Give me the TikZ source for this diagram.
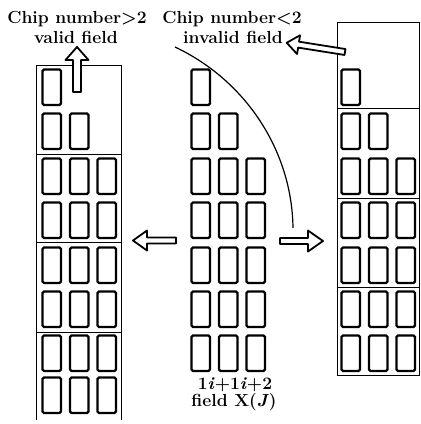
\documentclass[tikz,border=0pt]{standalone}
\usepackage{fontspec}
\newcommand\hollowarrow[7]{%
  \begin{scope}[shift={(#1,#2)}, rotate=#3]
    \draw[harrow] (0,-#5/2) -- (#4-#7,-#5/2) -- (#4-#7,-#6/2) -- (#4,0) -- (#4-#7,#6/2) -- (#4-#7,#5/2) -- (0,#5/2) -- cycle;
  \end{scope}}
\begin{document}
\begin{tikzpicture}[x=1pt,y=-1pt,
  chip/.style={draw, line width=2.2pt, rounded corners=1.5pt, minimum width=18.5pt, minimum height=35.5pt, inner sep=0pt, outer sep=0pt, anchor=north west},
  frame/.style={line width=0.9pt},
  lbl/.style={font=\fontsize{17.5}{20}\selectfont\bfseries, anchor=base, inner sep=0pt},
  harrow/.style={line width=1.8pt, line join=round, fill=white}]
\useasboundingbox (0,0) rectangle (421,424);

% frames
\draw[frame] (36,420) -- (36,65) -- (121,65) -- (121,420);
\foreach \yy in {154,242,332} \draw[frame] (36,\yy) -- (121,\yy);
\draw[frame] (337,22) rectangle (419,375);
\foreach \yy in {108,198,287} \draw[frame] (337,\yy) -- (419,\yy);

% left column chips
\foreach \r/\y/\n in {1/69/1,2/113/2,3/158/3,4/202/3,5/247/3,6/291/3,7/335/3,8/377/3} {
  \foreach \c/\dx in {1/0,2/27.5,3/55} {
    \ifnum\c>\n\relax\else \node[chip] (L-\r-\c) at (42.5+\dx,\y.5) {}; \fi
  }
}
% middle column chips
\foreach \r/\y/\n in {1/69/1,2/113/2,3/158/3,4/202/3,5/247/3,6/291/3,7/335/3} {
  \foreach \c/\dx in {1/0,2/27.5,3/55} {
    \ifnum\c>\n\relax\else \node[chip] (M-\r-\c) at (191.5+\dx,\y.5) {}; \fi
  }
}
% right column chips
\foreach \r/\y/\n in {1/69/1,2/113/2,3/158/3,4/202/3,5/247/3,6/291/3,7/335/3} {
  \foreach \c/\dx in {1/0,2/27.5,3/55} {
    \ifnum\c>\n\relax\else \node[chip] (R-\r-\c) at (341.5+\dx,\y.5) {}; \fi
  }
}

% curve
\coordinate (cs) at (175,47);
\coordinate (ce) at (293,228);
\draw[line width=1.2pt] (cs) .. controls (245,80) and (292,150) .. (ce);

% hollow arrows
\hollowarrow{77}{92}{90}{45}{8}{23}{13}
\hollowarrow{345}{52}{171}{59}{6}{19}{12}
\hollowarrow{176}{240.5}{180}{43}{6}{20}{14}
\hollowarrow{280}{241}{0}{43}{6}{21}{15}

% labels
\node[lbl] (t1a) at (77,23) {Chip number>2};
\node[lbl] (t1b) at (76,43) {valid field};
\node[lbl] (t2a) at (232,23) {Chip number<2};
\node[lbl] (t2b) at (233,43) {invalid field};
\node[lbl] (b1) at (235,389) {1\textit{i}+1\textit{i}+2};
\node[lbl] (b2) at (234,406) {field X(\textit{J})};
\end{tikzpicture}
\end{document}
